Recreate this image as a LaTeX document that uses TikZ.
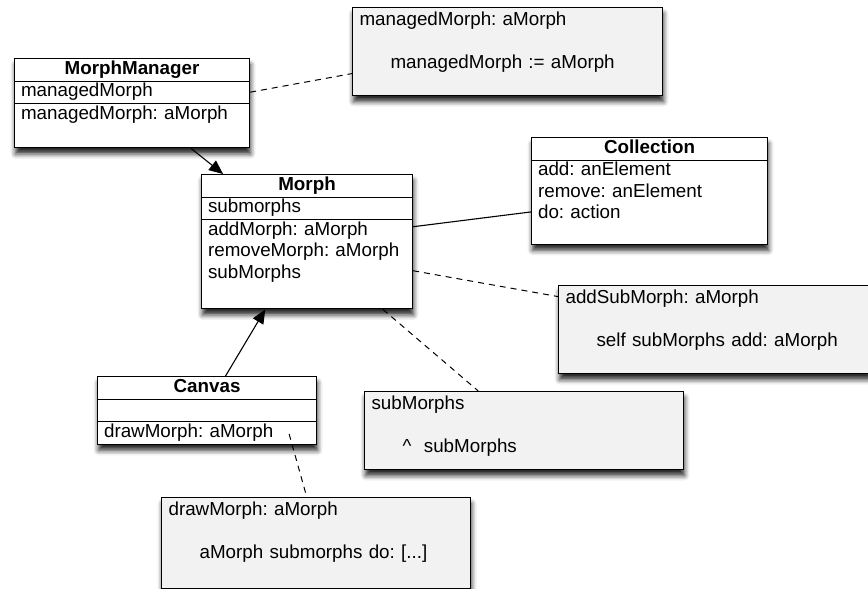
\documentclass[tikz,border=0pt]{standalone}
\usepackage{fontspec}
\setmainfont{Liberation Sans}
\usetikzlibrary{shapes,shadows.blur,arrows.meta,calc}
\newcommand{\pad}[1]{\rule[-#1]{0pt}{0pt}}
\newcommand{\cname}[1]{\hfill\textbf{#1}\hfill\strut}
\frenchspacing

\begin{document}
\begin{tikzpicture}[x=1pt,y=-1pt,font=\fontsize{18.8}{21.5}\selectfont]
        \tikzstyle{umlclass}=[rectangle split, rectangle split parts=3, draw, line width=1.1pt, fill=white, inner xsep=6.5pt, inner ysep=0pt, align=left, anchor=north west, blur shadow={shadow xshift=1pt, shadow yshift=-6pt, shadow blur radius=5pt, shadow opacity=85}]
        \tikzstyle{note}=[draw, line width=1.1pt, fill=black!5, inner xsep=7pt, inner ysep=3pt, align=left, anchor=north west, blur shadow={shadow xshift=1pt, shadow yshift=-6pt, shadow blur radius=5pt, shadow opacity=85}]
        \tikzstyle{notelink}=[line width=1pt, dash pattern=on 6pt off 5pt]
        \useasboundingbox (0,0) rectangle (868,589);
        % notes
        \node[note, text width=296pt] (mgrnote) at (352,7) {\strut managedMorph: aMorph\\[\baselineskip]\hspace*{31pt}managedMorph := aMorph\pad{24pt}};
        \node[note, text width=298pt] (addnote) at (558,285) {\strut addSubMorph: aMorph\\[\baselineskip]\hspace*{31pt}self subMorphs add: aMorph\pad{24pt}};
        \node[note, text width=305pt] (subnote) at (364,391) {\strut subMorphs\\[\baselineskip]\hspace*{31pt}\textasciicircum\ \ subMorphs\pad{14pt}};
        \node[note, text width=295pt] (drawnote) at (161,497) {\strut drawMorph: aMorph\\[\baselineskip]\hspace*{31pt}aMorph submorphs do: [...]\pad{27pt}};
        % classes
        \node[umlclass, text width=222pt] (mgr) at (14,58) {\cname{MorphManager} \nodepart{two} \strut managedMorph \nodepart{three} \strut managedMorph: aMorph\pad{28pt}};
        \node[umlclass, text width=198pt] (morph) at (201,174) {\cname{Morph} \nodepart{two} \strut submorphs \nodepart{three} \strut addMorph: aMorph\\ removeMorph: aMorph\\ subMorphs\pad{30pt}};
        \node[umlclass, rectangle split parts=2, text width=223pt] (coll) at (531,137) {\cname{Collection} \nodepart{two} \strut add: anElement\\ remove: anElement\\ do: action\pad{25pt}};
        \node[umlclass, text width=206pt] (canvas) at (97,376) {\cname{Canvas} \nodepart{two} \strut \nodepart{three} \strut drawMorph: aMorph};
        % links
        \draw[line width=1.1pt, -{Triangle[length=14pt,width=12pt]}] ($(mgr.south west)!.75!(mgr.south east)$) -- ($(morph.north west)!.104!(morph.north east)$);
        \draw[line width=1.1pt, -{Triangle[length=14pt,width=12pt]}] ($(canvas.north west)!.584!(canvas.north east)$) -- ($(morph.south west)!.303!(morph.south east)$);
        \draw[line width=1.1pt] ([yshift=15pt]morph.east) -- ([yshift=-21pt]coll.west);
        \draw[notelink] ([yshift=11pt]mgr.east) -- ([yshift=-22pt]mgrnote.west);
        \draw[notelink] ([yshift=-29pt]morph.east) -- ([yshift=33pt]addnote.west);
        \draw[notelink] ($(morph.south west)!.858!(morph.south east)$) -- ($(subnote.north west)!.357!(subnote.north east)$);
        \draw[notelink] ($(canvas.south east)+(-28,-11)$) -- ($(drawnote.north west)!.47!(drawnote.north east)$);
\end{tikzpicture}
\end{document}
